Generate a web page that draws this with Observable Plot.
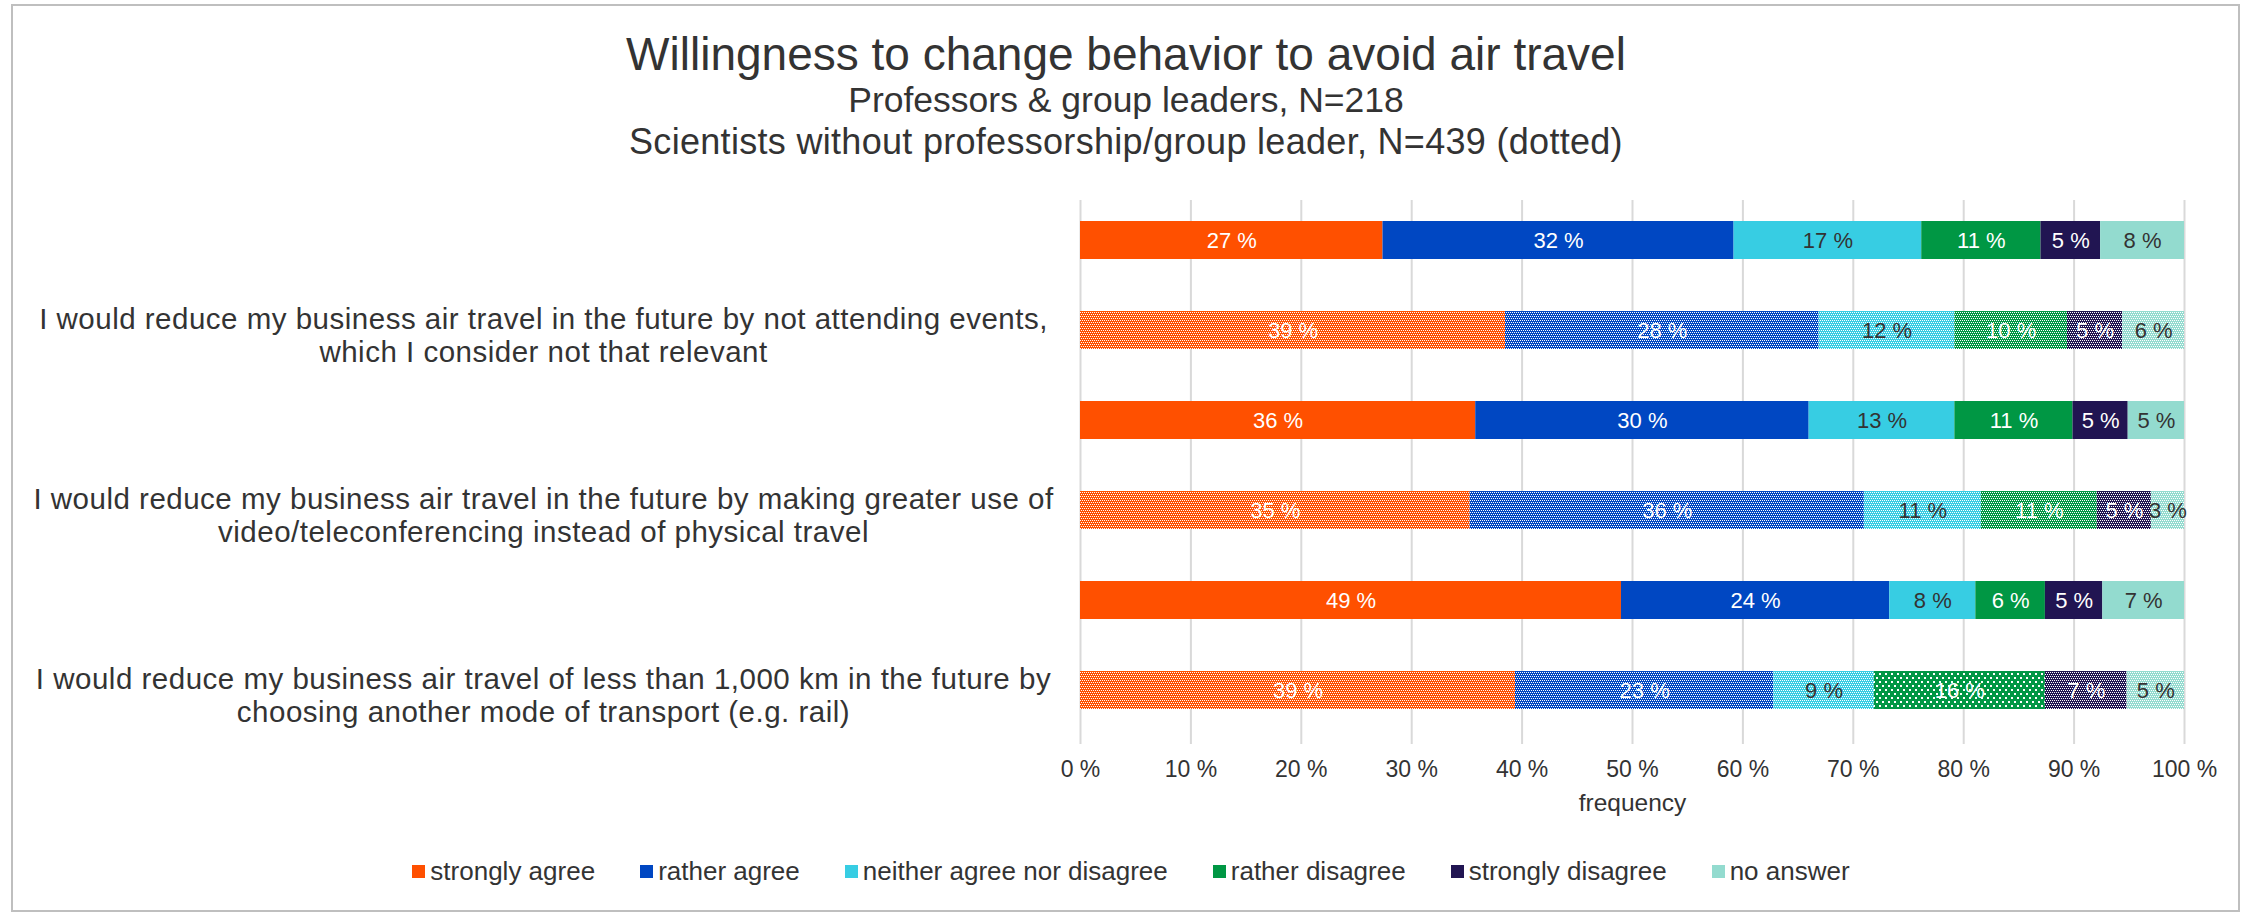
<!DOCTYPE html>
<html>
<head>
<meta charset="utf-8">
<script src="https://cdn.jsdelivr.net/npm/d3@7"></script>
<script src="https://cdn.jsdelivr.net/npm/@observablehq/plot@0.6"></script>
<style>
  html, body { margin: 0; padding: 0; background: #fff; }
  #wrap { position: relative; width: 2242px; height: 915px; font-family: "Liberation Sans", Arial, sans-serif; color: #333; overflow: hidden; }
  #frame { position: absolute; left: 11px; top: 4px; width: 2229px; height: 908px; box-sizing: border-box; border: 2px solid #bfbfbf; }
  .t { position: absolute; left: 0; width: 2252px; text-align: center; white-space: nowrap; }
  #chart { position: absolute; left: 0; top: 160px; }
  #legend { position: absolute; left: 0; width: 2262px; top: 856px; height: 30px; display: flex; justify-content: center; align-items: center; font-size: 26px; }
  .item { display: flex; align-items: center; margin: 0 22.5px; }
  .sw { width: 13px; height: 13px; margin-right: 5px; }
</style>
</head>
<body>
<div id="wrap">
  <div id="frame"></div>
  <div class="t" id="title" style="top:29px;height:50px;font-size:46px;line-height:50px;"></div>
  <div class="t" id="sub1" style="top:80px;height:41px;font-size:35.5px;line-height:41px;"></div>
  <div class="t" id="sub2" style="top:121px;height:41px;font-size:36px;line-height:41px;letter-spacing:0.3px;"></div>
  <div id="chart"></div>
  <div id="legend"></div>
</div>
<script>
// ---- data ----
const titleText = "Willingness to change behavior to avoid air travel";
const subtitle1 = "Professors & group leaders, N=218";
const subtitle2 = "Scientists without professorship/group leader, N=439 (dotted)";
const xLabel = "frequency";

const questions = [
  "I would reduce my business air travel in the future by not attending events,\nwhich I consider not that relevant",
  "I would reduce my business air travel in the future by making greater use of\nvideo/teleconferencing instead of physical travel",
  "I would reduce my business air travel of less than 1,000 km in the future by\nchoosing another mode of transport (e.g. rail)"
];
const groups = ["Professors & group leaders", "Scientists without professorship/group leader"];
const categories = ["strongly agree", "rather agree", "neither agree nor disagree", "rather disagree", "strongly disagree", "no answer"];
const categoryColors = ["#FF5000", "#0047C2", "#37CDE3", "#009744", "#211552", "#93DBCF"];
const labelColors = ["#ffffff", "#ffffff", "#333333", "#ffffff", "#ffffff", "#333333"];

// percent values per question (rows) and category (columns)
const professorValues = [
  [27.4, 31.8, 17.0, 10.8, 5.4, 7.6],
  [35.8, 30.2, 13.2, 10.7, 5.0, 5.1],
  [49.0, 24.3, 7.8, 6.3, 5.2, 7.4]
];
const scientistValues = [
  [38.5, 28.4, 12.3, 10.2, 5.0, 5.6],
  [35.3, 35.7, 10.6, 10.5, 4.9, 3.0],
  [39.4, 23.4, 9.1, 15.5, 7.4, 5.2]
];
const xTicks = [0, 10, 20, 30, 40, 50, 60, 70, 80, 90, 100];
// dotted segment drawn with the sparse dot pattern: [question, category]
const sparseSegments = [[2, 3]];

// ---- build table ----
const barKey = (q, g) => `q${q}-g${g}`;
const rows = [];
[professorValues, scientistValues].forEach((vals, g) => {
  vals.forEach((arr, q) => {
    arr.forEach((v, c) => {
      rows.push({q, g, c, bar: barKey(q, g), cat: categories[c], value: v});
    });
  });
});
const barOrder = [];
questions.forEach((_, q) => groups.forEach((_, g) => barOrder.push(barKey(q, g))));

const isSparse = (d) => sparseSegments.some(([q, c]) => q === d.q && c === d.c);
const fillOf = (d) => d.g === 0 ? categoryColors[d.c] : `url(#${isSparse(d) ? "sp" : "dp"}${d.c})`;

document.getElementById("title").textContent = titleText;
document.getElementById("sub1").textContent = subtitle1;
document.getElementById("sub2").textContent = subtitle2;

const FONT = "'Liberation Sans', Arial, sans-serif";
const chart = Plot.plot({
  width: 2242,
  height: 670,
  marginLeft: 1080,
  marginRight: 58,
  marginTop: 40,
  marginBottom: 86,
  style: {fontFamily: FONT, fontSize: "23px", color: "#333", background: "transparent"},
  x: {domain: [0, 100]},
  y: {domain: barOrder, axis: null, paddingInner: 0.58, paddingOuter: 0.312, align: 0.374},
  color: {type: "identity"},
  marks: [
    Plot.gridX({ticks: xTicks, stroke: "#d9d9d9", strokeOpacity: 1, strokeWidth: 2}),
    Plot.barX(rows, Plot.stackX({x: "value", y: "bar", z: "cat", fill: fillOf})),
    Plot.text(rows, Plot.stackX({x: "value", y: "bar", z: "cat",
      text: d => Math.round(d.value) + " %",
      fill: d => labelColors[d.c], fontSize: 22})),
    Plot.text(questions, {
      y: (d, i) => barKey(i, 1), text: d => d, frameAnchor: "left", dx: -537, dy: 4,
      textAnchor: "middle", fontSize: 29.5, lineHeight: 1.13, fill: "#333"
    }),
    Plot.axisX({ticks: xTicks, tickFormat: d => d + " %", tickSize: 0, tickPadding: 16, fontSize: 23,
      label: null, anchor: "bottom"}),
    Plot.text([xLabel], {text: d => d, frameAnchor: "bottom", dy: 66, fontSize: 24.5, fill: "#333"})
  ]
});

// widen the question labels slightly to match the reference typeface width
chart.querySelectorAll("text").forEach(t => {
  if (t.textContent && t.textContent.startsWith("I would")) t.style.letterSpacing = "0.5px";
});

// patterns for the dotted bars
let defs = "<defs>";
categoryColors.forEach((col, c) => {
  defs += `<pattern id="dp${c}" width="4" height="4" patternUnits="userSpaceOnUse">` +
    `<rect width="4" height="4" fill="${col}"/>` +
    `<rect x="0" y="0" width="1" height="1" fill="#fff"/><rect x="2" y="0" width="1" height="1" fill="#fff"/>` +
    `<rect x="1" y="2" width="1" height="1" fill="#fff"/><rect x="3" y="2" width="1" height="1" fill="#fff"/>` +
    `</pattern>`;
  defs += `<pattern id="sp${c}" width="6" height="8" patternUnits="userSpaceOnUse">` +
    `<rect width="6" height="8" fill="${col}"/>` +
    `<rect x="1" y="1" width="2" height="2" fill="#fff"/><rect x="4" y="5" width="2" height="2" fill="#fff"/>` +
    `</pattern>`;
});
defs += "</defs>";
chart.insertAdjacentHTML("afterbegin", defs);
document.getElementById("chart").appendChild(chart);

// legend
const legend = document.getElementById("legend");
categories.forEach((cat, c) => {
  const item = document.createElement("div");
  item.className = "item";
  const sw = document.createElement("div");
  sw.className = "sw";
  sw.style.background = categoryColors[c];
  const lab = document.createElement("span");
  lab.textContent = cat;
  item.appendChild(sw); item.appendChild(lab);
  legend.appendChild(item);
});
</script>
</body>
</html>
